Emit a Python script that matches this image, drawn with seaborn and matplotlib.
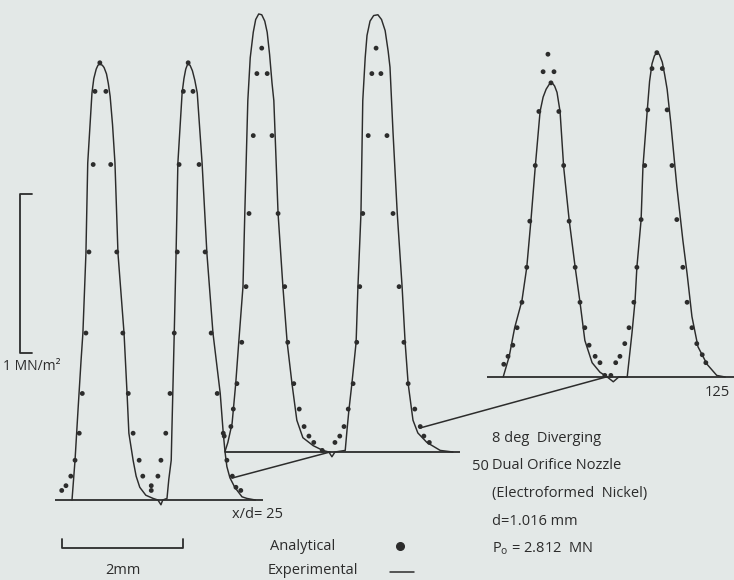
import numpy as np
import pandas as pd
import matplotlib
matplotlib.use("Agg")
import matplotlib.pyplot as plt
from matplotlib.lines import Line2D
from matplotlib.patches import ConnectionPatch
import seaborn as sns

# ---------------- data (x in mm from nozzle centre line, p in MN/m^2) ----------------
stations = [25, 50, 125]   # x/d

p1_exp_x = [-1.19, -1.14, -1.09, -1.04, -1.01, -0.96, -0.93, -0.86, -0.83, -0.79, -0.76, -0.73, -0.69,
            -0.66, -0.62, -0.59, -0.56, -0.52, -0.48, -0.43, -0.33, -0.28, -0.25, -0.18, -0.13, -0.07,
            0.03, 0.15, 0.23, 0.28, 0.31, 0.38, 0.41, 0.45, 0.46, 0.50, 0.53, 0.56, 0.63, 0.66, 0.69,
            0.72, 0.76, 0.80, 0.84, 0.88, 0.96, 1.04, 1.14, 1.26, 1.31, 1.34, 1.37, 1.42, 1.50, 1.62,
            1.70, 1.84]
p1_exp_p = [0.00, 0.25, 0.57, 0.88, 1.05, 1.55, 2.12, 2.56, 2.65, 2.71, 2.735, 2.74, 2.735,
            2.72, 2.68, 2.62, 2.54, 2.36, 2.12, 1.55, 1.05, 0.67, 0.42, 0.25, 0.15, 0.08,
            0.03, 0.01, 0.00, -0.03, 0.00, 0.01, 0.13, 0.25, 0.42, 1.05, 1.55, 2.12, 2.56, 2.65, 2.71,
            2.74, 2.735, 2.70, 2.64, 2.56, 2.12, 1.55, 1.05, 0.67, 0.42, 0.30, 0.21, 0.14, 0.08, 0.02,
            0.01, 0.00]
p1_ana_x = [-0.73, -0.81, -0.63, -0.84, -0.55, -0.91, -0.45, -0.96, -0.35, -1.02, -0.26, -1.07, -0.18,
            -1.14, -0.08, -1.21, -0.02, -1.29, -1.36, 0.12, 0.12, 0.73, 0.65, 0.81, 0.58, 0.91, 0.55,
            1.01, 0.50, 1.11, 0.43, 1.21, 0.36, 1.31, 0.28, 1.37, 0.23, 1.46, 1.52, 1.60]
p1_ana_p = [2.75, 2.57, 2.57, 2.11, 2.11, 1.56, 1.56, 1.05, 1.05, 0.67, 0.67, 0.42, 0.42,
            0.25, 0.25, 0.15, 0.15, 0.09, 0.06, 0.09, 0.06, 2.75, 2.57, 2.57, 2.11, 2.11, 1.56,
            1.56, 1.05, 1.05, 0.67, 0.67, 0.42, 0.42, 0.25, 0.25, 0.15, 0.15, 0.08, 0.06]

p2_exp_x = [-1.54, -1.49, -1.42, -1.36, -1.31, -1.24, -1.21, -1.16, -1.12, -1.07, -1.03, -0.98, -0.93,
            -0.88, -0.84, -0.80, -0.76, -0.73, -0.66, -0.58, -0.51, -0.43, -0.35, -0.25, -0.08, 0.08,
            0.18, 0.23, 0.28, 0.45, 0.48, 0.51, 0.56, 0.63, 0.66, 0.71, 0.74, 0.78, 0.81, 0.86, 0.92,
            0.99, 1.05, 1.11, 1.16, 1.19, 1.24, 1.31, 1.39, 1.44, 1.49, 1.57, 1.65, 1.80, 2.02, 2.23]
p2_exp_p = [0.00, 0.06, 0.18, 0.43, 0.69, 1.04, 1.50, 2.21, 2.48, 2.64, 2.72, 2.755, 2.75,
            2.71, 2.64, 2.50, 2.32, 2.21, 1.50, 1.04, 0.69, 0.43, 0.20, 0.09, 0.04, 0.01,
            0.00, -0.03, 0.00, 0.01, 0.14, 0.26, 0.43, 0.69, 1.04, 1.50, 2.21, 2.48, 2.62, 2.71, 2.745,
            2.75, 2.72, 2.65, 2.52, 2.42, 2.01, 1.50, 1.04, 0.69, 0.43, 0.20, 0.12, 0.06, 0.01, 0.00]
p2_ana_x = [-0.93, -1.01, -0.84, -1.07, -0.76, -1.14, -0.66, -1.19, -0.55, -1.26, -0.50, -1.34, -0.40,
            -1.40, -0.31, -1.44, -0.23, -1.55, -0.15, -0.07, 0.07, 0.96, 0.89, 1.04, 0.83, 1.14, 0.74,
            1.24, 0.69, 1.34, 0.64, 1.42, 0.58, 1.49, 0.50, 1.60, 0.43, 1.69, 0.36, 1.75, 0.28, 1.84]
p2_ana_p = [2.54, 2.38, 2.38, 1.99, 1.99, 1.50, 1.50, 1.04, 1.04, 0.69, 0.69, 0.43, 0.43,
            0.27, 0.27, 0.16, 0.16, 0.10, 0.10, 0.06, 0.01, 2.54, 2.38, 2.38, 1.99, 1.99, 1.50,
            1.50, 1.04, 1.04, 0.69, 0.69, 0.43, 0.43, 0.27, 0.27, 0.16, 0.16, 0.10, 0.10, 0.06, 0.06]

p3_exp_x = [-1.65, -1.55, -1.46, -1.34, -1.26, -1.19, -1.12, -1.04, -0.99, -0.94, -0.89, -0.84, -0.80,
            -0.76, -0.71, -0.65, -0.56, -0.46, -0.38, -0.30, -0.18, -0.05, 0.07, 0.17, 0.26, 0.40,
            0.48, 0.53, 0.56, 0.63, 0.66, 0.73, 0.77, 0.81, 0.85, 0.89, 0.93, 0.98, 1.02, 1.06, 1.12,
            1.22, 1.32, 1.39, 1.47, 1.57, 1.72, 1.88, 2.02]
p3_exp_p = [0.00, 0.13, 0.31, 0.48, 0.69, 0.99, 1.32, 1.67, 1.76, 1.81, 1.84, 1.85, 1.83,
            1.79, 1.67, 1.32, 0.99, 0.69, 0.47, 0.23, 0.09, 0.03, 0.00, -0.03, 0.00, 0.00,
            0.28, 0.48, 0.69, 0.99, 1.32, 1.67, 1.86, 1.97, 2.02, 2.04, 2.03, 1.98, 1.90, 1.81, 1.60,
            1.20, 0.86, 0.65, 0.38, 0.19, 0.08, 0.01, 0.00]
p3_ana_x = [-0.91, -0.99, -0.81, -0.86, -1.06, -0.73, -1.12, -0.65, -1.21, -0.56, -1.26, -0.46, -1.34,
            -0.38, -1.42, -0.30, -1.49, -0.23, -1.57, -0.13, -1.64, -0.05, 0.03, 0.13, 0.89, 0.81, 0.98,
            0.74, 1.06, 0.69, 1.14, 0.63, 1.22, 0.56, 1.32, 0.51, 1.39, 0.43, 1.47, 0.36, 1.55, 0.28,
            1.64, 0.21, 1.70]
p3_ana_p = [2.03, 1.92, 1.92, 1.85, 1.67, 1.67, 1.33, 1.33, 0.98, 0.98, 0.69, 0.69, 0.47,
            0.47, 0.31, 0.31, 0.20, 0.20, 0.13, 0.13, 0.08, 0.09, 0.01, 0.01, 2.04, 1.94, 1.94,
            1.68, 1.68, 1.33, 1.33, 0.99, 0.99, 0.69, 0.69, 0.47, 0.47, 0.31, 0.31, 0.21, 0.21, 0.13,
            0.14, 0.09, 0.09]

# traverse extent of each station's zero line (mm)
base_start = [-1.47, -1.54, -1.92]
base_end = [1.97, 2.35, 2.17]

# jet-edge links between stations: (x, p) on one station -> (x, p) on the next
link_from = [(1.455, 0.138), (1.686, 0.151)]
link_to = [(0.198, 0.0), (0.050, 0.0)]

station_labels = ["x/d= 25", "50", "125"]
info_lines = ["8 deg  Diverging", "Dual Orifice Nozzle", "(Electroformed  Nickel)",
              "d=1.016 mm", r"$\mathregular{P_o}$ = 2.812  MN"]

# ---------------- style / layout ----------------
sns.set_theme(style="white")
plt.rcParams['font.family'] = ['Open Sans', 'DejaVu Sans']

W, H = 734, 580
SX, SY = 60.5, 159.0                      # px per mm, px per MN/m^2
origins = [(144, 500), (318, 452), (603, 377)]   # pixel position of (0, 0) for each station
BG = '#e3e8e7'
INK = '#2c2c2c'
FS = 10.5

def fpos(px, py):
    return px / W, 1 - py / H

fig = plt.figure(figsize=(W / 100, H / 100), dpi=100, facecolor=BG)

exp_data = [(p1_exp_x, p1_exp_p), (p2_exp_x, p2_exp_p), (p3_exp_x, p3_exp_p)]
ana_data = [(p1_ana_x, p1_ana_p), (p2_ana_x, p2_ana_p), (p3_ana_x, p3_ana_p)]

axes = []
for i, st in enumerate(stations):
    x0, b0 = origins[i]
    ax = fig.add_axes([0, 0, 1, 1])
    ax.patch.set_alpha(0)
    ax.set_xlim(-x0 / SX, (W - x0) / SX)
    ax.set_ylim((b0 - H) / SY, b0 / SY)
    ax.set_axis_off()
    ex, ep = exp_data[i]
    axx, app = ana_data[i]
    ax.hlines(0, base_start[i], base_end[i], color=INK, lw=1.3, zorder=2)
    sns.lineplot(x=ex, y=ep, ax=ax, color=INK, lw=1.05, estimator=None, sort=False, zorder=3,
                 solid_joinstyle='round')
    sns.scatterplot(x=axx, y=app, ax=ax, color=INK, s=12, edgecolor='none', zorder=4)
    axes.append(ax)

# links between successive stations
for k in range(2):
    con = ConnectionPatch(xyA=link_from[k], coordsA=axes[k].transData,
                          xyB=link_to[k], coordsB=axes[k + 1].transData,
                          color=INK, lw=1.1)
    fig.add_artist(con)

# station labels
fig.text(*fpos(232, 515), station_labels[0], fontsize=FS, color=INK, ha='left', va='center')
fig.text(*fpos(472, 467), station_labels[1], fontsize=FS, color=INK, ha='left', va='center')
fig.text(*fpos(705, 392), station_labels[2], fontsize=FS, color=INK, ha='left', va='center')

# pressure scale bar (1 MN/m^2), drawn in station-1 units
ax1 = axes[0]
xb = (20 - origins[0][0]) / SX
tick = 12 / SX
yb0 = (origins[0][1] - 353) / SY
ax1.plot([xb + tick, xb, xb, xb + tick], [yb0 + 1.0, yb0 + 1.0, yb0, yb0], color=INK, lw=1.3)
fig.text(*fpos(3, 366), "1 MN/m²", fontsize=FS - 0.5, color=INK, ha='left', va='center')

# length scale bar (2 mm)
xh0 = (62 - origins[0][0]) / SX
yh = (origins[0][1] - 548) / SY
th = 9 / SY
ax1.plot([xh0, xh0, xh0 + 2.0, xh0 + 2.0], [yh + th, yh, yh, yh + th], color=INK, lw=1.3)
fig.text(*fpos(xh0 * SX + origins[0][0] + SX, 570), "2mm", fontsize=FS, color=INK,
         ha='center', va='center')

# legend
fig.text(*fpos(270, 546), "Analytical", fontsize=FS, color=INK, ha='left', va='center')
fig.text(*fpos(268, 571), "Experimental", fontsize=FS, color=INK, ha='left', va='center')
fig.add_artist(Line2D([400 / W], [1 - 546 / H], marker='o', ms=5.5, color=INK, ls='',
                      transform=fig.transFigure))
fig.add_artist(Line2D([390 / W, 414 / W], [1 - 572 / H] * 2, color=INK, lw=1.1,
                      transform=fig.transFigure))

# info block
for j, s in enumerate(info_lines):
    fig.text(*fpos(492, 438 + 27.8 * j), s, fontsize=FS, color=INK, ha='left', va='center')

fig.savefig("out.png", dpi=100, facecolor=BG)
